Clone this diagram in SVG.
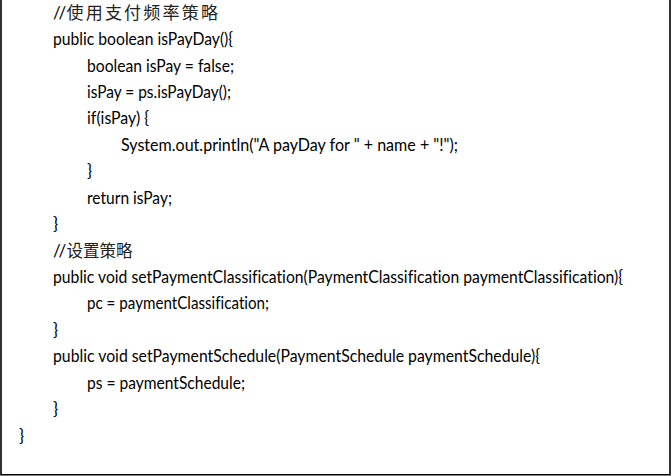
<svg xmlns="http://www.w3.org/2000/svg" width="672" height="476" viewBox="0 0 672 476">
<style>
.t{font-family:Lato,"Liberation Sans","Noto Sans CJK SC",sans-serif;font-size:17px;fill:#000;font-variant-ligatures:none;font-feature-settings:"liga" 0}
.cjk{font-family:"Noto Sans CJK SC",sans-serif;fill:#222}
.sl{letter-spacing:1.6px}
</style>
<rect x="0" y="0" width="672" height="476" fill="#fff"/>
<path d="M1 0 V474.8 H670 V0" fill="none" stroke="#000" stroke-width="1.6"/>
<g id="code">
<text class="t" x="53" y="19"><tspan class="sl">//</tspan><tspan class="cjk" x="66.5" font-size="17" letter-spacing="2.2">使用支付频率策略</tspan></text>
<text class="t" x="53" y="45" textLength="180" lengthAdjust="spacingAndGlyphs">public boolean isPayDay(){</text>
<text class="t" x="87" y="71.5" textLength="147" lengthAdjust="spacingAndGlyphs">boolean isPay = false;</text>
<text class="t" x="87" y="97.8" textLength="144" lengthAdjust="spacingAndGlyphs">isPay = ps.isPayDay();</text>
<text class="t" x="87" y="124.3" textLength="62" lengthAdjust="spacingAndGlyphs">if(isPay) {</text>
<text class="t" x="121" y="150.7" textLength="337" lengthAdjust="spacingAndGlyphs">System.out.println("A payDay for " + name + "!");</text>
<text class="t" x="87" y="177.2">}</text>
<text class="t" x="87" y="203.6" textLength="85" lengthAdjust="spacingAndGlyphs">return isPay;</text>
<text class="t" x="53" y="230.1">}</text>
<text class="t" x="53" y="256.5"><tspan class="sl">//</tspan><tspan class="cjk" x="66.5" font-size="16.5">设置策略</tspan></text>
<text class="t" x="53" y="283" textLength="570" lengthAdjust="spacingAndGlyphs">public void setPaymentClassification(PaymentClassification paymentClassification){</text>
<text class="t" x="87" y="309.4" textLength="182" lengthAdjust="spacingAndGlyphs">pc = paymentClassification;</text>
<text class="t" x="53" y="335.9">}</text>
<text class="t" x="53" y="362.3" textLength="487" lengthAdjust="spacingAndGlyphs">public void setPaymentSchedule(PaymentSchedule paymentSchedule){</text>
<text class="t" x="87" y="388.8" textLength="158" lengthAdjust="spacingAndGlyphs">ps = paymentSchedule;</text>
<text class="t" x="53" y="415.2">}</text>
<text class="t" x="19" y="441.7">}</text>
</g>
</svg>
